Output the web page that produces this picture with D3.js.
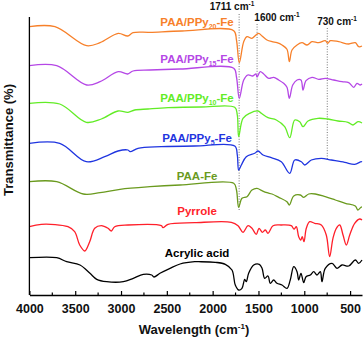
<!DOCTYPE html>
<html>
<head>
<meta charset="utf-8">
<script src="https://cdn.jsdelivr.net/npm/d3@7"></script>
<style>
  body { margin: 0; background: #fff; }
  svg text { font-family: "Liberation Sans", Arial, sans-serif; font-weight: bold; }
</style>
</head>
<body>
<div id="chart"></div>
<script>
// wavenumber (cm-1), transmittance (a.u., stacked)
var acrylic = [[4000,37.3],[3702,37.3],[3593,33.3],[3448,30],[3339,21.7],[3265,15.7],[3156,13.3],[2975,13.3],[2866,16.7],[2757,20.7],[2665,20],[2640,18],[2575,21.7],[2465,26.7],[2356,31],[2196,33.3],[2152,33.3],[1971,32.7],[1862,30.7],[1789,25],[1753,10],[1716,5],[1680,6.7],[1650,15.7],[1633,13.3],[1607,21.7],[1552,30],[1491,30.7],[1461,26.7],[1432,16.7],[1396,19],[1371,11.7],[1334,15],[1298,11.7],[1243,10],[1189,6.7],[1153,15],[1115,28.3],[1079,23.3],[1061,15],[1036,21.7],[1006,12.3],[981,18.3],[934,20],[897,23.3],[861,20],[825,23.3],[807,13.3],[771,26.7],[697,31.7],[643,26.7],[588,30],[515,29],[443,35],[406,31.7],[370,35]];
var pyrrole = [[4000,68.3],[3870,70.7],[3579,68.3],[3506,63.3],[3451,50],[3396,44],[3342,53.3],[3287,66.7],[3215,69.3],[3142,66.7],[3106,64],[3069,68.3],[2924,70],[2560,69.3],[2542,67.3],[2487,70.7],[2196,72.3],[1796,72.7],[1723,69.3],[1669,62.7],[1614,69.3],[1571,66.7],[1524,60.7],[1494,66.7],[1458,62.7],[1425,65],[1396,61.7],[1341,69.3],[1251,70],[1142,69.3],[1112,66],[1087,68.3],[1061,58.3],[1039,55],[1022,58.3],[1003,53.3],[978,66.7],[941,73.3],[886,71.7],[814,70],[760,60],[723,38.3],[687,56.7],[650,66.7],[613,70],[577,60],[541,50],[504,60],[450,71.7],[395,76],[370,75]];
var paaFe = [[4000,113.3],[3702,113.3],[3412,101],[3229,102.3],[3011,105.7],[2684,108.3],[2356,110],[1770,111.7],[1740,105],[1716,87.7],[1680,96.7],[1625,98.3],[1571,105],[1516,106.7],[1461,104.3],[1407,102.3],[1352,101],[1279,97.7],[1189,93.3],[1163,90],[1115,99],[1043,100],[1006,97.7],[952,101],[880,101],[771,98.3],[661,95],[552,91.7],[443,89],[414,85],[381,87.7],[370,88]];
var ppy5 = [[4000,151.7],[3669,151.7],[3379,133.3],[3178,138.3],[3033,144],[2924,145],[2900,143.3],[2815,146.7],[2560,148.3],[2196,149],[1759,149],[1731,140],[1716,125],[1687,130],[1633,138.3],[1541,141.7],[1505,144],[1450,140],[1360,137.3],[1251,133.3],[1159,121.7],[1104,135],[1032,133.3],[995,130],[923,135],[814,136.7],[705,135],[559,132.7],[450,130.7],[378,133.3],[370,133]];
var ppy10 = [[4000,191.7],[3669,191],[3379,172.7],[3215,176],[3033,184],[2924,182.7],[2851,185],[2706,186],[2487,187.3],[2124,188],[1759,187.7],[1731,180],[1716,158.3],[1669,176.7],[1596,181.7],[1505,184],[1469,181.7],[1396,177.3],[1305,175],[1214,168.3],[1159,157.3],[1104,175],[1050,173.3],[1014,168.3],[959,174],[850,176.7],[741,176],[632,174],[523,172.7],[468,170],[414,173.3],[370,172]];
var ppy15 = [[4000,229.3],[3702,229.3],[3375,210],[3229,213.3],[3030,223.3],[2927,221],[2869,224],[2684,225],[2356,226],[1770,226.7],[1740,218],[1709,196.7],[1661,215],[1617,220],[1563,219],[1527,221],[1516,218],[1480,223.3],[1443,221],[1388,216.7],[1334,217.7],[1279,215],[1225,211.7],[1189,207.7],[1163,196.7],[1126,210],[1079,215],[1036,215],[1014,205],[981,214.3],[916,217.7],[843,215.7],[771,216.7],[679,215],[588,213.3],[515,212.3],[460,207.7],[425,211.7],[389,210],[370,211]];
var ppy20 = [[4000,268.3],[3721,268.3],[3375,249.3],[3229,252.3],[3030,261.7],[2927,259],[2869,262.3],[2684,262.7],[2335,264],[1770,264.3],[1740,255],[1709,232.3],[1661,253.3],[1625,258.3],[1571,256.7],[1527,260],[1497,261.7],[1461,259],[1407,255],[1352,253.3],[1298,252.3],[1243,250],[1189,245.7],[1163,233.3],[1134,245],[1079,250],[1025,252.3],[970,250],[916,253.3],[843,252.3],[771,254.3],[744,251.7],[716,254.3],[624,253.3],[515,251],[443,252.3],[406,248.3],[370,249]];

var seriesData = [ppy20, ppy15, ppy10, ppy5, paaFe, pyrrole, acrylic];
var seriesNames = [["PAA/PPy", "20", "-Fe"], ["PAA/PPy", "15", "-Fe"], ["PAA/PPy", "10", "-Fe"], ["PAA/PPy", "5", "-Fe"], ["PAA-Fe", "", ""], ["Pyrrole", "", ""], ["Acrylic acid", "", ""]];
var seriesColors = ["#f7802a", "#b547e6", "#62ec26", "#1f35e0", "#6a9a1e", "#ff1f2a", "#000000"];

var bandPos = [1711, 1515, 749];
var bandLabels = ["1711", "1600", "730"];

var xTicks = [4000, 3500, 3000, 2500, 2000, 1500, 1000, 500];

// layout
var width = 364, height = 338;
var labelT = [269, 232, 193, 153, 115, 80, 38];
var bandTop = [14, 24, 28], bandBottom = [210, 158, 160];
var bandLabelX = [232, 277, 337], bandLabelY = [10, 21, 25];

var svg = d3.select('#chart')
  .append('svg')
    .attr('width', width)
    .attr('height', height);

var x = d3.scaleLinear().domain([4000, 370]).range([29.4, 362]);
var y = d3.scaleLinear().domain([0, 278]).range([295, 17]);

var line = d3.line()
    .x(d => x(d[0]))
    .y(d => y(d[1]))
    .curve(d3.curveCatmullRom.alpha(0.5));

// band markers
svg.append('g')
  .selectAll('line')
  .data(bandPos)
  .enter()
  .append('line')
    .attr('x1', d => x(d)).attr('x2', d => x(d))
    .attr('y1', (d, i) => bandTop[i])
    .attr('y2', (d, i) => bandBottom[i])
    .attr('stroke', '#666')
    .attr('stroke-width', 0.9)
    .attr('stroke-dasharray', '1,1.6');

svg.append('g')
  .selectAll('path')
  .data(seriesData)
  .enter()
  .append('path')
    .attr('d', line)
    .attr('fill', 'none')
    .attr('stroke', (d, i) => seriesColors[i])
    .attr('stroke-width', 1.3);

// series labels
var lab = svg.append('g')
  .selectAll('text')
  .data(seriesNames)
  .enter()
  .append('text')
    .attr('x', x(2170))
    .attr('y', (d, i) => y(labelT[i]))
    .attr('text-anchor', 'middle')
    .attr('font-size', '11.5px')
    .attr('fill', (d, i) => seriesColors[i]);
lab.append('tspan').text(d => d[0]);
lab.filter(d => d[1] !== '').append('tspan')
    .attr('font-size', '7px').attr('dy', 3).text(d => d[1]);
lab.filter(d => d[2] !== '').append('tspan')
    .attr('dy', -3).text(d => d[2]);

// band labels
var bl = svg.append('g')
  .selectAll('text')
  .data(bandLabels)
  .enter()
  .append('text')
    .attr('x', (d, i) => bandLabelX[i])
    .attr('y', (d, i) => bandLabelY[i])
    .attr('text-anchor', 'middle')
    .attr('font-size', '10px')
    .attr('fill', '#111');
bl.append('tspan').text(d => d + ' cm');
bl.append('tspan').attr('font-size', '6.5px').attr('dy', -4).text('-1');

// axes
var xAxis = d3.axisBottom(x)
    .tickValues(xTicks)
    .tickFormat(d3.format('d'))
    .tickSizeInner(-4)
    .tickSizeOuter(0)
    .tickPadding(9);
var gx = svg.append('g')
    .attr('transform', 'translate(0,295)')
    .call(xAxis);
gx.selectAll('text')
    .attr('font-size', '12.5px')
    .attr('fill', '#111');
gx.select('.domain').attr('stroke-width', 1.3);
gx.selectAll('.tick line').attr('stroke-width', 1.2);

svg.append('g')
  .selectAll('line')
  .data([3750, 3250, 2750, 2250, 1750, 1250, 750])
  .enter()
  .append('line')
    .attr('x1', d => x(d)).attr('x2', d => x(d))
    .attr('y1', 295).attr('y2', 292.5)
    .attr('stroke', '#000')
    .attr('stroke-width', 1.2);

svg.append('line')
    .attr('x1', x(4000)).attr('x2', x(4000))
    .attr('y1', 17).attr('y2', 295)
    .attr('stroke', '#000')
    .attr('stroke-width', 1.3);

var xt = svg.append('text')
    .attr('x', 194)
    .attr('y', 334)
    .attr('text-anchor', 'middle')
    .attr('font-size', '13px')
    .attr('fill', '#111');
xt.append('tspan').text('Wavelength (cm');
xt.append('tspan').attr('font-size', '8px').attr('dy', -5).text('-1');
xt.append('tspan').attr('dy', 5).text(')');

svg.append('text')
    .attr('transform', 'translate(13,140) rotate(-90)')
    .attr('text-anchor', 'middle')
    .attr('font-size', '13px')
    .attr('fill', '#111')
    .text('Transmittance (%)');
</script>
</body>
</html>
